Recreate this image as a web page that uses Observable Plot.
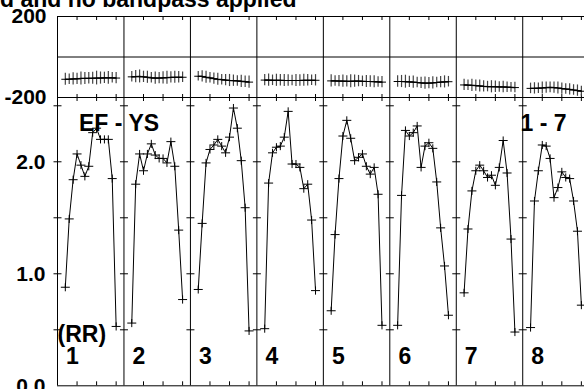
<!DOCTYPE html>
<html><head><meta charset="utf-8">
<script src="https://cdn.jsdelivr.net/npm/d3@7"></script>
<script src="https://cdn.jsdelivr.net/npm/@observablehq/plot@0.6"></script>
<style>
html,body{margin:0;padding:0;background:#fff;overflow:hidden}
#wrap{position:relative;width:584px;height:389px;overflow:hidden;font-family:"Liberation Sans",Arial,sans-serif}
#title{position:absolute;left:0;top:-12px;font-size:23px;font-weight:bold;line-height:23px;white-space:nowrap;color:#000;z-index:2}
#chart svg{display:block}
</style></head><body>
<div id="wrap"><div id="title">d and no bandpass applied</div><div id="chart"></div></div>
<script>
// ---- data ----
const titleText = "d and no bandpass applied";
const baselineLabel = "EF - YS";
const stokesLabel = "(RR)";
const rangeLabel = "1 - 7";
const panels = [1, 2, 3, 4, 5, 6, 7, 8];
const channels = [2, 3, 4, 5, 6, 7, 8, 9, 10, 11, 12, 13, 14, 15];
const channelTicks = [5, 10, 15];
const ampTicks = [0, 1, 2];
const ampMinorTicks = [0.5, 1, 1.5, 2, 2.5];
const phaseTicks = [-200, 200];

const amp1 = [0.88, 1.49, 1.84, 2.07, 1.97, 1.87, 1.96, 2.26, 2.30, 2.20, 2.20, 2.20, 1.85, 0.53];
const amp2 = [0.56, 1.80, 2.07, 1.92, 2.07, 2.16, 2.06, 2.03, 2.03, 1.99, 2.18, 1.96, 1.39, 0.77];
const amp3 = [0.86, 1.45, 1.99, 2.11, 2.15, 2.20, 2.14, 2.08, 2.22, 2.48, 2.30, 2.01, 1.59, 0.49];
const amp4 = [0.51, 1.81, 2.08, 2.13, 2.14, 2.22, 2.45, 1.98, 1.98, 1.95, 1.76, 1.80, 1.48, 0.85];
const amp5 = [0.67, 1.35, 1.85, 2.23, 2.37, 2.21, 2.01, 2.04, 2.07, 1.96, 1.89, 1.95, 1.71, 0.54];
const amp6 = [0.54, 1.70, 2.28, 2.23, 2.26, 2.32, 1.95, 2.14, 2.17, 2.12, 1.82, 1.41, 1.07, 0.63];
const amp7 = [0.83, 1.40, 1.74, 1.92, 1.97, 1.92, 1.86, 1.88, 1.79, 1.95, 2.19, 1.90, 1.31, 0.48];
const amp8 = [0.52, 1.65, 1.92, 2.15, 2.14, 2.03, 1.68, 1.77, 1.91, 1.86, 1.85, 1.65, 1.38, 0.72];

const phase1 = [-110, -110, -108, -108, -106, -106, -105, -105, -104, -104, -103, -103, -103, -104];
const phase2 = [-98, -97, -96, -98, -100, -103, -104, -104, -103, -102, -101, -100, -100, -100];
const phase3 = [-95, -96, -100, -103, -107, -110, -112, -114, -116, -117, -118, -120, -122, -124];
const phase4 = [-114, -114, -115, -115, -115, -116, -116, -116, -116, -116, -115, -115, -115, -115];
const phase5 = [-118, -118, -119, -119, -120, -120, -119, -119, -120, -121, -121, -122, -123, -124];
const phase6 = [-121, -121, -122, -123, -124, -126, -128, -129, -129, -128, -126, -124, -123, -122];
const phase7 = [-138, -139, -140, -141, -143, -145, -146, -147, -147, -148, -148, -149, -150, -151];
const phase8 = [-155, -155, -154, -153, -151, -150, -151, -153, -156, -158, -160, -163, -166, -169];

const err1 = [30, 26, 30, 28, 32, 30, 28, 30, 34, 30, 28, 32, 26, 28];
const err2 = [26, 30, 32, 28, 30, 26, 30, 28, 30, 32, 28, 30, 28, 26];
const err3 = [24, 28, 30, 26, 28, 30, 26, 28, 30, 28, 26, 30, 28, 30];
const err4 = [28, 30, 26, 30, 28, 30, 28, 26, 30, 28, 30, 28, 26, 28];
const err5 = [30, 26, 28, 30, 28, 32, 30, 28, 26, 30, 28, 30, 26, 28];
const err6 = [28, 30, 32, 28, 30, 26, 28, 30, 28, 30, 26, 28, 30, 26];
const err7 = [28, 26, 30, 28, 30, 28, 26, 30, 28, 26, 28, 26, 24, 26];
const err8 = [26, 28, 26, 30, 28, 26, 28, 30, 28, 26, 28, 26, 28, 24];

// ---- build table ----
const SPAN = 17;              // channel slots per panel
const X_DOMAIN = [0, 134.8];  // visible part of the 8 panels
const ampSeries = [amp1, amp2, amp3, amp4, amp5, amp6, amp7, amp8];
const phaseSeries = [phase1, phase2, phase3, phase4, phase5, phase6, phase7, phase8];
const errSeries = [err1, err2, err3, err4, err5, err6, err7, err8];
const rows = panels.flatMap((p, i) => channels.map((c, j) => ({
  panel: p, x: (p - 1) * SPAN + c,
  amp: ampSeries[i][j], phase: phaseSeries[i][j], err: errSeries[i][j]
})));
const boundaries = panels.map(p => (p - 1) * SPAN);
const xTickPos = panels.flatMap(p => channelTicks.map(c => (p - 1) * SPAN + c));
const yCross = boundaries.flatMap(b => ampMinorTicks.map(v => ({b, v})));

// custom symbols
const plusSym = {draw(ctx, size) {
  const r = Math.sqrt(size / Math.PI);
  ctx.moveTo(-r, 0); ctx.lineTo(r, 0); ctx.moveTo(0, -r * 0.9); ctx.lineTo(0, r * 0.9);
}};
const hSym = {draw(ctx, size) {
  const r = Math.sqrt(size / Math.PI);
  ctx.moveTo(-r, 0); ctx.lineTo(r, 0);
}};

const FONT = {fontSize: 21, fontWeight: "bold", fontFamily: "Liberation Sans, Arial, sans-serif", fill: "#000"};
const LABEL = {...FONT, fontSize: 23};
const svgStyle = {overflow: "visible", background: "transparent", color: "#000"};

const topPlot = Plot.plot({
  width: 584, height: 97,
  marginLeft: 57, marginRight: 0, marginTop: 16, marginBottom: 0,
  style: svgStyle,
  x: {domain: X_DOMAIN, axis: null},
  y: {domain: [-200, 200], axis: null},
  marks: [
    Plot.ruleY([-200, 0, 200], {stroke: "#000", strokeWidth: 1}),
    Plot.ruleX(boundaries, {stroke: "#000", strokeWidth: 1}),
    Plot.axisX(xTickPos, {anchor: "top", tickSize: -3, tickFormat: () => "", label: null, stroke: "#000"}),
    Plot.axisX(xTickPos, {anchor: "bottom", tickSize: -3, tickFormat: () => "", label: null, stroke: "#000"}),
    Plot.axisY(phaseTicks, {anchor: "left", tickSize: 0, tickPadding: 11, tickFormat: d => String(d), label: null, ...FONT}),
    Plot.ruleX(rows, {x: "x", y1: d => d.phase - d.err, y2: d => d.phase + d.err, stroke: "#444", strokeWidth: 1.2}),
    Plot.line(rows, {x: "x", y: "phase", z: "panel", stroke: "#000", strokeWidth: 1.2}),
    Plot.dot(rows, {x: "x", y: "phase", symbol: hSym, r: 4, fill: "none", stroke: "#000", strokeWidth: 1})
  ]
});

const bottomPlot = Plot.plot({
  width: 584, height: 292,
  marginLeft: 57, marginRight: 0, marginTop: 0, marginBottom: 3.7,
  style: svgStyle,
  x: {domain: X_DOMAIN, axis: null},
  y: {domain: [0, 2.574], axis: null},
  marks: [
    Plot.ruleY([0, 2.574], {stroke: "#000", strokeWidth: 1}),
    Plot.ruleX(boundaries, {stroke: "#000", strokeWidth: 1}),
    Plot.axisX(xTickPos, {anchor: "top", tickSize: -3, tickFormat: () => "", label: null, stroke: "#000"}),
    Plot.axisX(xTickPos, {anchor: "bottom", tickSize: -4, tickFormat: () => "", label: null, stroke: "#000"}),
    Plot.dot(yCross, {x: "b", y: "v", symbol: hSym, r: 4, fill: "none", stroke: "#000", strokeWidth: 1}),
    Plot.axisY(ampTicks, {anchor: "left", tickSize: 0, tickPadding: 12, tickFormat: d3.format(".1f"), label: null, ...FONT}),
    Plot.line(rows, {x: "x", y: "amp", z: "panel", stroke: "#000", strokeWidth: 1}),
    Plot.dot(rows, {x: "x", y: "amp", symbol: plusSym, r: 4.5, fill: "none", stroke: "#000", strokeWidth: 1}),
    Plot.text([baselineLabel], {frameAnchor: "top-left", text: d => d, dx: 21.5, dy: 26, textAnchor: "start", lineAnchor: "middle", ...LABEL}),
    Plot.text([rangeLabel], {frameAnchor: "top-right", text: d => d, dx: -18, dy: 26, textAnchor: "end", lineAnchor: "middle", ...LABEL}),
    Plot.text([stokesLabel], {frameAnchor: "bottom-left", text: d => d, dx: 0, dy: -51, textAnchor: "start", lineAnchor: "middle", ...LABEL}),
    Plot.text(panels, {x: p => (p - 1) * SPAN + 2.2, text: p => String(p), frameAnchor: "bottom", dy: -29, textAnchor: "start", lineAnchor: "middle", ...LABEL})
  ]
});

document.getElementById("title").textContent = titleText;
const chart = document.getElementById("chart");
chart.appendChild(topPlot);
chart.appendChild(bottomPlot);
</script>
</body></html>
